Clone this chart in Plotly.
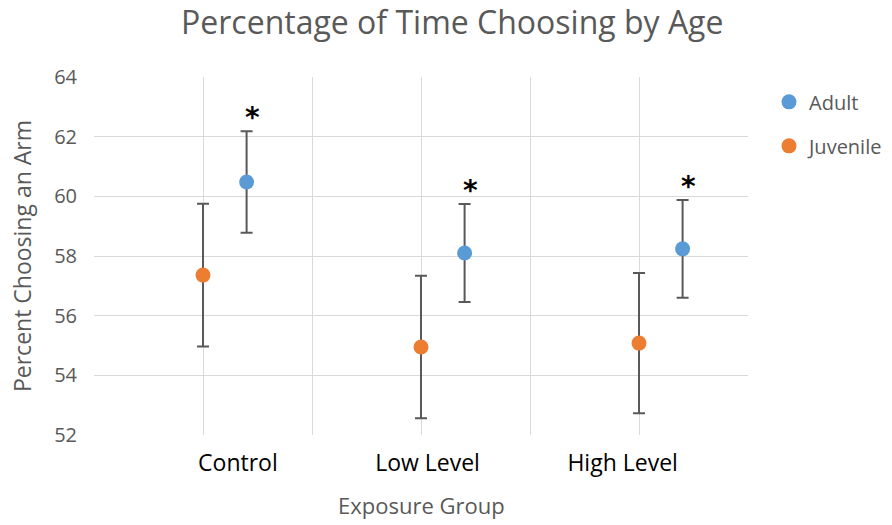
import plotly.graph_objects as go

groups = ["Control", "Low Level", "High Level"]
juv_x = [1, 3, 5]
adult_x = [1.4, 3.4, 5.4]
label_x = [1.32, 3.06, 4.85]
juv_mean = [57.36, 54.95, 55.08]
juv_err = [2.39, 2.39, 2.35]
adult_mean = [60.48, 58.10, 58.24]
adult_err = [1.70, 1.64, 1.64]
sig = ["*", "*", "*"]

BLUE = "#5B9BD5"
ORANGE = "#ED7D31"
GRAY = "#595959"
FONT = "Open Sans"

W, H = 892, 525
L, R = 94, 0
PLOT_RIGHT = 748
dom_right = (PLOT_RIGHT - L) / (W - L - R)

fig = go.Figure()

for xs, ys, es in [(adult_x, adult_mean, adult_err), (juv_x, juv_mean, juv_err)]:
    fig.add_trace(go.Scatter(
        x=xs, y=ys, mode="markers", showlegend=False, hoverinfo="skip",
        marker=dict(size=2, opacity=0),
        error_y=dict(type="data", array=es, visible=True, color=GRAY, thickness=2, width=6),
    ))

fig.add_trace(go.Scatter(x=adult_x, y=adult_mean, mode="markers", name="Adult",
                         legendgroup="a",
                         marker=dict(size=15, color=BLUE)))
fig.add_trace(go.Scatter(x=juv_x, y=juv_mean, mode="markers", name="Juvenile",
                         legendgroup="j",
                         marker=dict(size=15, color=ORANGE)))

# dummy trace for category label axis
fig.add_trace(go.Scatter(x=label_x, y=[None]*3, xaxis="x2", showlegend=False, hoverinfo="skip"))

for x, m, e, s in zip(adult_x, adult_mean, adult_err, sig):
    fig.add_annotation(x=x, y=m + e, text="<b>" + s + "</b>", showarrow=False, yanchor="bottom",
                       xshift=6, yshift=-5, font=dict(family="DejaVu Sans", size=28, color="black"))

fig.add_annotation(text="Exposure Group", x=0.5, xref="x domain", y=0, yref="paper",
                   yshift=-70, yanchor="middle", showarrow=False,
                   font=dict(family=FONT, size=22, color=GRAY))

fig.update_layout(
    width=W, height=H,
    margin=dict(l=L, r=R, t=77, b=90),
    paper_bgcolor="white", plot_bgcolor="white",
    title=dict(text="Percentage of Time Choosing by Age", x=0.507, xref="container",
               xanchor="center", y=0.957, yanchor="middle",
               font=dict(family=FONT, size=32, color=GRAY)),
    xaxis=dict(domain=[0, dom_right], range=[0, 6], dtick=1, tick0=0, showgrid=True,
               gridcolor="#D9D9D9", gridwidth=1,
               showticklabels=False, zeroline=False, showline=False, ticks=""),
    xaxis2=dict(domain=[0, dom_right], range=[0, 6], overlaying="x", side="bottom",
                tickvals=label_x, ticktext=groups,
                showgrid=False, zeroline=False, showline=False, ticks="",
                ticklabelstandoff=12,
                tickfont=dict(family=FONT, size=23, color="black")),
    yaxis=dict(range=[52, 64], dtick=2, tick0=52, showgrid=True, gridcolor="#D9D9D9", gridwidth=1,
               zeroline=False, showline=False, ticks="", ticklabelstandoff=16,
               tickfont=dict(family=FONT, size=20, color=GRAY),
               title=dict(text="Percent Choosing an Arm", font=dict(family=FONT, size=23, color=GRAY), standoff=16)),
    legend=dict(x=(769 - L) / (W - L - R), y=0.985, xanchor="left", yanchor="top", tracegroupgap=15,
                font=dict(family=FONT, size=20, color=GRAY), itemwidth=30, bgcolor="rgba(0,0,0,0)"),
    showlegend=True,
)

fig.write_html("out.html")
